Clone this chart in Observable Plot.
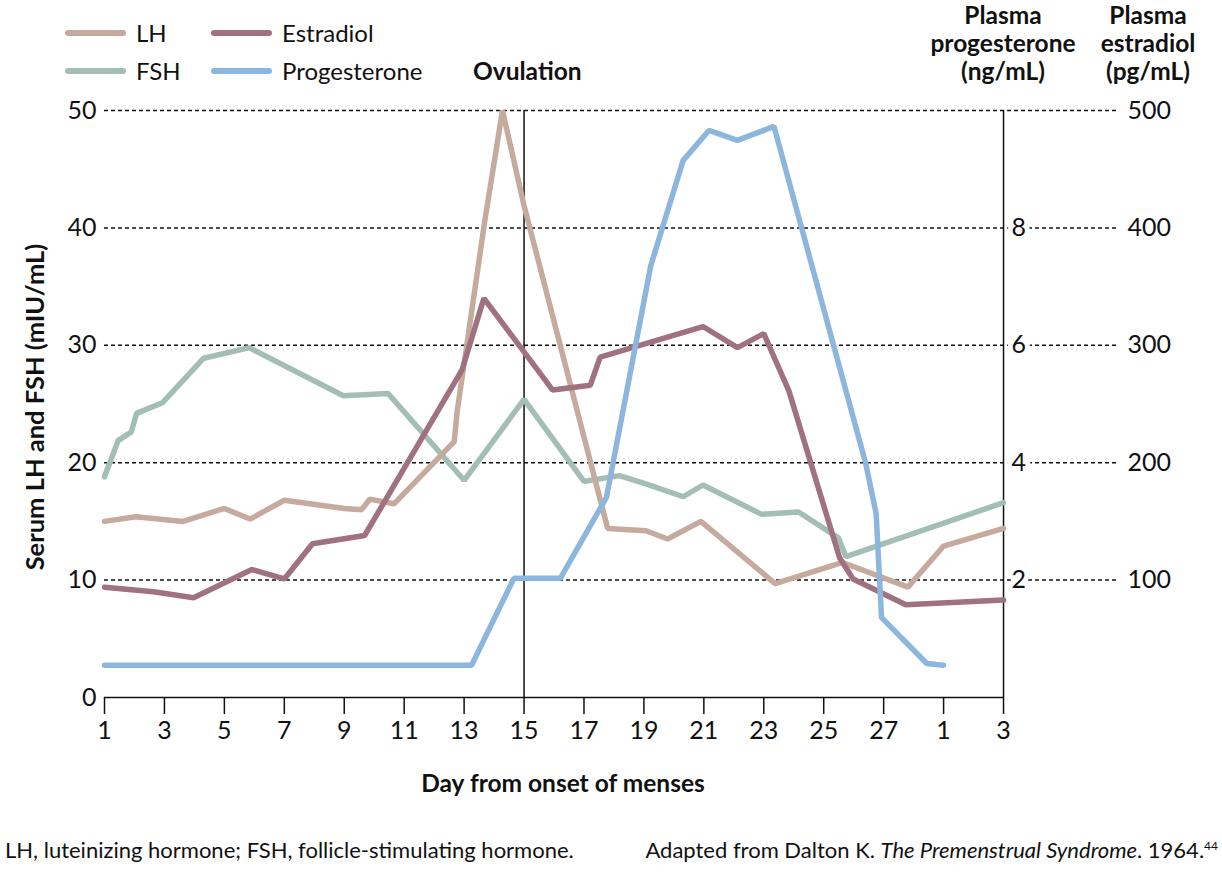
<!DOCTYPE html>
<html>
<head>
<meta charset="utf-8">
<script src="https://cdn.jsdelivr.net/npm/d3@7"></script>
<script src="https://cdn.jsdelivr.net/npm/@observablehq/plot@0.6"></script>
<style>
  body { margin: 0; background: #fff; font-family: Lato, "Open Sans", sans-serif; color: #111; }
  #wrap { position: relative; width: 1222px; height: 880px; overflow: hidden; background: #fff; }
  #chart { position: absolute; left: 0; top: 0; }
  .abs { position: absolute; white-space: nowrap; line-height: 1; }
  .sw { position: absolute; height: 6px; border-radius: 3px; transform: translateY(-50%); }
  .leg { font-size: 24px; transform: translateY(-50%); }
  .bold { font-weight: 700; font-size: 24.5px; }
  .hdr { position: absolute; font-weight: 700; font-size: 24.5px; line-height: 28px; text-align: center; transform: translateX(-50%); white-space: nowrap; }
  .cap { font-size: 22px; transform: translateY(-50%); }
</style>
</head>
<body>
<div id="wrap">
  <div id="chart"></div>
</div>
<script>
// ---- Data ----
// x tick days and their printed labels (cycle restarts after day 28)
const xTickDays   = [1, 3, 5, 7, 9, 11, 13, 15, 17, 19, 21, 23, 25, 27, 29, 31];
const xTickLabels = ["1","3","5","7","9","11","13","15","17","19","21","23","25","27","1","3"];
const leftTicks   = [0, 10, 20, 30, 40, 50];          // Serum LH and FSH (mIU/mL)
const gridTicks   = [10, 20, 30, 40, 50];
const progTicks   = [2, 4, 6, 8];                      // Plasma progesterone (ng/mL)
const estTicks    = [100, 200, 300, 400, 500];         // Plasma estradiol (pg/mL)
const ovulationDay = 15;
const cycleEndDay  = 31;
const gridEndDay   = 34.87;   // dashed grid continues past the right axis under the estradiol labels

// LH (mIU/mL)
const lhDays   = [1, 2.04, 3.62, 5.0, 5.86, 7.0, 9.0, 9.58, 9.85, 10.66, 12.67, 12.77, 13.69, 14.28, 15.0, 17.79, 19.07, 19.79, 20.9, 23.38, 25.63, 27.81, 29.0, 31.0];
const lhValues = [15.0, 15.4, 15.0, 16.1, 15.2, 16.8, 16.1, 16.0, 16.9, 16.5, 21.8, 24.4, 40.6, 50.0, 41.9, 14.4, 14.2, 13.5, 15.0, 9.7, 11.5, 9.4, 12.9, 14.4];

// FSH (mIU/mL)
const fshDays   = [1, 1.46, 1.89, 2.07, 2.93, 4.31, 5.83, 8.97, 10.46, 13.0, 15.0, 17.0, 18.18, 19.07, 20.31, 20.97, 22.93, 24.16, 25.49, 25.74, 31.0];
const fshValues = [18.8, 21.9, 22.6, 24.2, 25.1, 28.9, 29.8, 25.7, 25.9, 18.5, 25.4, 18.4, 18.9, 18.2, 17.1, 18.1, 15.6, 15.8, 13.6, 12.0, 16.6];

// Estradiol (pg/mL)
const estDays   = [1, 2.64, 3.97, 5.92, 7.0, 7.94, 9.68, 12.93, 13.66, 15.95, 17.21, 17.54, 20.97, 22.12, 23.0, 23.84, 25.53, 25.98, 27.74, 31.0];
const estValues = [94, 90, 85, 109, 101, 131, 138, 279, 340, 262, 266, 290, 316, 298, 310, 261, 119, 101, 79, 83];

// Progesterone (ng/mL)
const progDays   = [1, 13.25, 14.66, 16.21, 17.75, 19.23, 20.31, 21.17, 22.12, 23.34, 26.40, 26.75, 26.93, 28.44, 29.0];
const progValues = [0.55, 0.55, 2.03, 2.03, 3.41, 7.36, 9.15, 9.66, 9.49, 9.73, 3.99, 3.13, 1.36, 0.58, 0.55];

// scale relations of the right-hand axes to the left axis
const estPerUnit  = 10;   // 1 mIU/mL gridline unit = 10 pg/mL
const progPerUnit = 0.2;  // 1 unit = 0.2 ng/mL

const colors = { LH: "#c5aa9d", FSH: "#a2beb5", Estradiol: "#a0717f", Progesterone: "#8db6de" };

const toRows = (days, vals, k = 1) => days.map((d, i) => ({ day: d, v: vals[i] / k }));
const lh   = toRows(lhDays, lhValues);
const fsh  = toRows(fshDays, fshValues);
const est  = toRows(estDays, estValues, estPerUnit);
const prog = toRows(progDays, progValues, progPerUnit);

const lineOpts = c => ({ x: "day", y: "v", stroke: c, strokeWidth: 5.5, strokeLinejoin: "miter", strokeLinecap: "round" });

const chart = Plot.plot({
  width: 1222,
  height: 800,
  marginTop: 110,
  marginBottom: 103,
  marginLeft: 104,
  marginRight: 103,
  x: { domain: [1, gridEndDay] },
  y: { domain: [0, 50] },
  style: { fontFamily: "Lato, 'Open Sans', sans-serif", fontSize: "25px", color: "#111", background: "white", overflow: "visible" },
  marks: [
    Plot.ruleY(gridTicks, { stroke: "#111", strokeWidth: 1.5, strokeDasharray: "4,3" }),
    Plot.ruleY([0], { x1: 1, x2: cycleEndDay, stroke: "#111", strokeWidth: 1.6 }),
    Plot.ruleX([ovulationDay], { y1: 0, y2: 50, stroke: "#111", strokeWidth: 1.5 }),
    Plot.ruleX([cycleEndDay], { y1: 0, y2: 50, stroke: "#111", strokeWidth: 1.5 }),
    Plot.axisX({ ticks: xTickDays, tickFormat: d => xTickLabels[xTickDays.indexOf(d)], tickSize: 17, tickPadding: 7, label: null, fontSize: 25, stroke: "#111", strokeWidth: 1.5 }),
    Plot.axisY({ ticks: leftTicks, tickSize: 0, tickPadding: 8, label: null, fontSize: 25 }),
    Plot.text(progTicks, { x: cycleEndDay, y: d => d / progPerUnit, text: d => String(d), textAnchor: "start", dx: 8, fontSize: 25, fill: "#111", stroke: "white", strokeWidth: 10, paintOrder: "stroke" }),
    Plot.text(estTicks, { frameAnchor: "right", y: d => d / estPerUnit, text: d => String(d), textAnchor: "start", dx: 8, fontSize: 25, fill: "#111" }),
    Plot.line(fsh, lineOpts(colors.FSH)),
    Plot.line(lh, lineOpts(colors.LH)),
    Plot.line(est, lineOpts(colors.Estradiol)),
    Plot.line(prog, lineOpts(colors.Progesterone))
  ]
});
document.getElementById("chart").appendChild(chart);

// ---- HTML text: legend, headers, titles, caption ----
const wrap = document.getElementById("wrap");
function add(html, cls, style) {
  const el = document.createElement("div");
  el.className = cls;
  el.innerHTML = html;
  Object.assign(el.style, style);
  wrap.appendChild(el);
  return el;
}
const legendItems = [
  { name: "LH", left: 65, y: 33 },
  { name: "FSH", left: 65, y: 71 },
  { name: "Estradiol", left: 211, y: 33 },
  { name: "Progesterone", left: 211, y: 71 }
];
legendItems.forEach(it => {
  add("", "sw", { left: it.left + "px", top: it.y + "px", width: "61px", background: colors[it.name] });
  add(it.name, "abs leg", { left: (it.left + 71) + "px", top: it.y + "px" });
});
add("Ovulation", "abs bold", { left: "473px", top: "71px", transform: "translateY(-50%)" });
add("Plasma<br>progesterone<br>(ng/mL)", "hdr", { left: "1003px", top: "1px" });
add("Plasma<br>estradiol<br>(pg/mL)", "hdr", { left: "1148px", top: "1px" });
add("Serum LH and FSH (mIU/mL)", "abs bold", { left: "35px", top: "407px", fontSize: "25.5px", transform: "translate(-50%,-50%) rotate(-90deg)" });
add("Day from onset of menses", "abs bold", { left: "563px", top: "783px", transform: "translate(-50%,-50%)" });
add("LH, luteinizing hormone; FSH, follicle-stimulating hormone.", "abs cap", { left: "5px", top: "850px" });
add("Adapted from Dalton K. <i>The Premenstrual Syndrome</i>. 1964.<sup style='font-size:12px'>44</sup>", "abs cap", { right: "4px", top: "850px" });
</script>
</body>
</html>
